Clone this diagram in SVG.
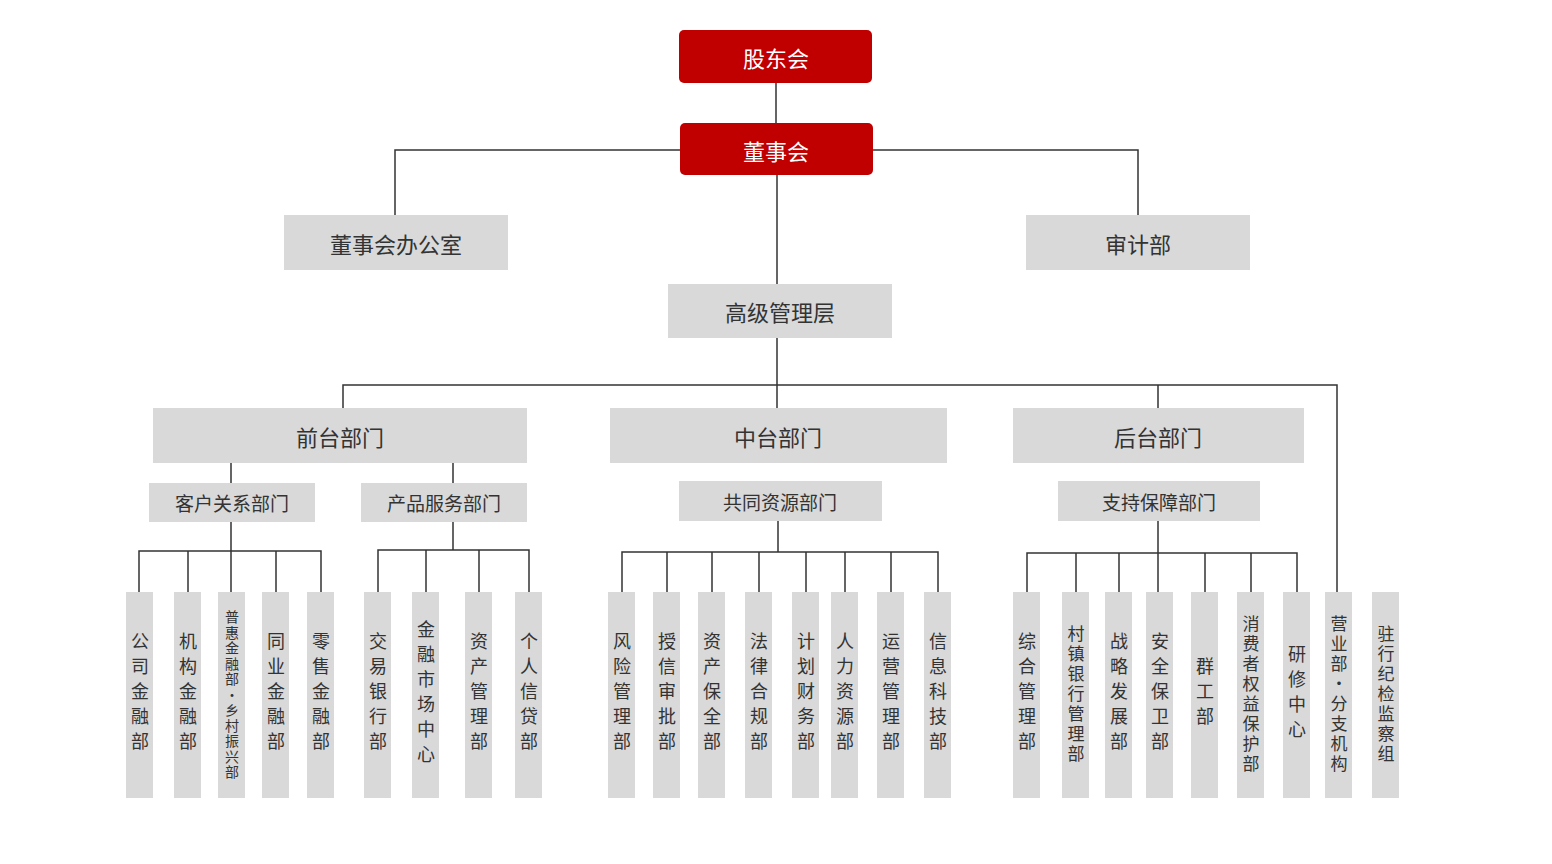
<svg xmlns="http://www.w3.org/2000/svg" width="1552" height="864" viewBox="0 0 1552 864">
<style>
.red{fill:#c00000}
.g{fill:#d9d9d9}
.rt{font-family:"Noto Sans CJK SC",sans-serif;font-size:22px;fill:#fff;text-anchor:middle;dominant-baseline:central}
.t{font-family:"Noto Sans CJK SC",sans-serif;font-size:22px;fill:#333;text-anchor:middle;dominant-baseline:central}
.s{font-family:"Noto Sans CJK SC",sans-serif;font-size:19px;fill:#333;text-anchor:middle;dominant-baseline:central}
.v{font-family:"Noto Sans CJK SC",sans-serif;font-size:18px;fill:#333;text-anchor:middle;writing-mode:vertical-rl;text-orientation:upright;letter-spacing:7px}
.v2{font-family:"Noto Sans CJK SC",sans-serif;font-size:17px;fill:#333;text-anchor:middle;writing-mode:vertical-rl;text-orientation:upright;letter-spacing:3px}
.v3{font-family:"Noto Sans CJK SC",sans-serif;font-size:14px;fill:#333;text-anchor:middle;writing-mode:vertical-rl;text-orientation:upright;letter-spacing:1.5px}
.c{stroke:#333;stroke-width:1.5;fill:none}
</style>
<rect width="1552" height="864" fill="#fff"/>
<g id="connectors" class="c">
<path d="M776 83V123M777 175V284M395 215V150H1138V215M777 338V385M343 408V385H1337V592M777 385V408M1158 385V408"/>
<path d="M231 463V483M453 463V483M231 522V592M139 592V551H321V592M188 551V592M276 551V592"/>
<path d="M453 522V550M378 592V550H529V592M426 550V592M479 550V592"/>
<path d="M778 521V552M622 592V552H938V592M667 552V592M712 552V592M759 552V592M806 552V592M845 552V592M891 552V592"/>
<path d="M1158 521V592M1027 592V553H1297V592M1076 553V592M1119 553V592M1205 553V592M1251 553V592"/>
</g>
<g id="n1"><rect class="red" x="679" y="30" width="193" height="53" rx="5"/><text class="rt" x="776" y="57">股东会</text></g>
<g id="n2"><rect class="red" x="680" y="123" width="193" height="52" rx="5"/><text class="rt" x="776" y="150">董事会</text></g>
<g id="n3"><rect class="g" x="284" y="215" width="224" height="55"/><text class="t" x="396" y="243">董事会办公室</text></g>
<g id="n4"><rect class="g" x="1026" y="215" width="224" height="55"/><text class="t" x="1138" y="243">审计部</text></g>
<g id="n5"><rect class="g" x="668" y="284" width="224" height="54"/><text class="t" x="780" y="311">高级管理层</text></g>
<g id="n6"><rect class="g" x="153" y="408" width="374" height="55"/><text class="t" x="340" y="436">前台部门</text></g>
<g id="n7"><rect class="g" x="610" y="408" width="337" height="55"/><text class="t" x="778" y="436">中台部门</text></g>
<g id="n8"><rect class="g" x="1013" y="408" width="291" height="55"/><text class="t" x="1158" y="436">后台部门</text></g>
<g id="n9"><rect class="g" x="149" y="483" width="166" height="39"/><text class="s" x="232" y="502">客户关系部门</text></g>
<g id="n10"><rect class="g" x="361" y="483" width="166" height="39"/><text class="s" x="444" y="502">产品服务部门</text></g>
<g id="n11"><rect class="g" x="679" y="481" width="203" height="40"/><text class="s" x="780" y="501">共同资源部门</text></g>
<g id="n12"><rect class="g" x="1058" y="481" width="202" height="40"/><text class="s" x="1159" y="501">支持保障部门</text></g>
<g id="b1"><rect class="g" x="126" y="592" width="27" height="206"/><text class="v" x="140" y="695">公司金融部</text></g>
<g id="b2"><rect class="g" x="174" y="592" width="27" height="206"/><text class="v" x="188" y="695">机构金融部</text></g>
<g id="b3"><rect class="g" x="218" y="592" width="27" height="206"/><text class="v3" x="232" y="695">普惠金融部·乡村振兴部</text></g>
<g id="b4"><rect class="g" x="262" y="592" width="27" height="206"/><text class="v" x="276" y="695">同业金融部</text></g>
<g id="b5"><rect class="g" x="307" y="592" width="27" height="206"/><text class="v" x="321" y="695">零售金融部</text></g>
<g id="b6"><rect class="g" x="364" y="592" width="27" height="206"/><text class="v" x="378" y="695">交易银行部</text></g>
<g id="b7"><rect class="g" x="412" y="592" width="27" height="206"/><text class="v" x="426" y="695">金融市场中心</text></g>
<g id="b8"><rect class="g" x="465" y="592" width="27" height="206"/><text class="v" x="479" y="695">资产管理部</text></g>
<g id="b9"><rect class="g" x="515" y="592" width="27" height="206"/><text class="v" x="529" y="695">个人信贷部</text></g>
<g id="b10"><rect class="g" x="608" y="592" width="27" height="206"/><text class="v" x="622" y="695">风险管理部</text></g>
<g id="b11"><rect class="g" x="653" y="592" width="27" height="206"/><text class="v" x="667" y="695">授信审批部</text></g>
<g id="b12"><rect class="g" x="698" y="592" width="27" height="206"/><text class="v" x="712" y="695">资产保全部</text></g>
<g id="b13"><rect class="g" x="745" y="592" width="27" height="206"/><text class="v" x="759" y="695">法律合规部</text></g>
<g id="b14"><rect class="g" x="792" y="592" width="27" height="206"/><text class="v" x="806" y="695">计划财务部</text></g>
<g id="b15"><rect class="g" x="831" y="592" width="27" height="206"/><text class="v" x="845" y="695">人力资源部</text></g>
<g id="b16"><rect class="g" x="877" y="592" width="27" height="206"/><text class="v" x="891" y="695">运营管理部</text></g>
<g id="b17"><rect class="g" x="924" y="592" width="27" height="206"/><text class="v" x="938" y="695">信息科技部</text></g>
<g id="b18"><rect class="g" x="1013" y="592" width="27" height="206"/><text class="v" x="1027" y="695">综合管理部</text></g>
<g id="b19"><rect class="g" x="1062" y="592" width="27" height="206"/><text class="v2" x="1076" y="695">村镇银行管理部</text></g>
<g id="b20"><rect class="g" x="1105" y="592" width="27" height="206"/><text class="v" x="1119" y="695">战略发展部</text></g>
<g id="b21"><rect class="g" x="1146" y="592" width="27" height="206"/><text class="v" x="1160" y="695">安全保卫部</text></g>
<g id="b22"><rect class="g" x="1191" y="592" width="27" height="206"/><text class="v" x="1205" y="695">群工部</text></g>
<g id="b23"><rect class="g" x="1237" y="592" width="27" height="206"/><text class="v2" x="1251" y="695">消费者权益保护部</text></g>
<g id="b24"><rect class="g" x="1283" y="592" width="27" height="206"/><text class="v" x="1297" y="695">研修中心</text></g>
<g id="b25"><rect class="g" x="1325" y="592" width="27" height="206"/><text class="v2" x="1339" y="695">营业部·分支机构</text></g>
<g id="b26"><rect class="g" x="1372" y="592" width="27" height="206"/><text class="v2" x="1386" y="695">驻行纪检监察组</text></g>
</svg>
